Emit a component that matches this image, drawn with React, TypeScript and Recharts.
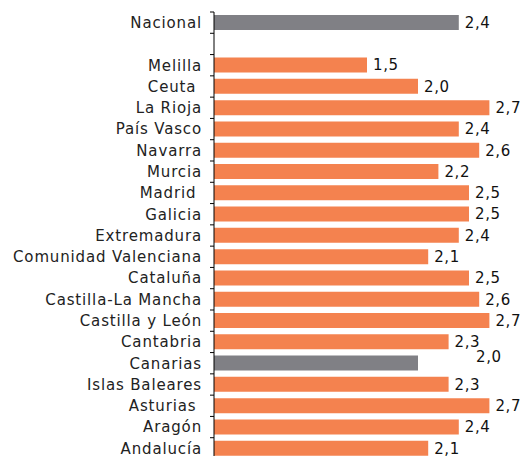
import React from 'react';
import { BarChart, Bar, XAxis, YAxis, Cell, LabelList } from 'recharts';

const categories = [
    'Nacional', '', 'Melilla', 'Ceuta\u00A0', 'La Rioja', 'País Vasco', 'Navarra', 'Murcia',
    'Madrid\u00A0', 'Galicia', 'Extremadura', 'Comunidad Valenciana', 'Cataluña',
    'Castilla-La Mancha', 'Castilla y León', 'Cantabria', 'Canarias', 'Islas Baleares',
    'Asturias\u00A0', 'Aragón', 'Andalucía',
];
const values = [
    2.4, null, 1.5, 2.0, 2.7, 2.4, 2.6, 2.2, 2.5, 2.5, 2.4, 2.1, 2.5, 2.6, 2.7, 2.3, 2.0, 2.3, 2.7, 2.4, 2.1,
];
const grayRows = ['Nacional', 'Canarias'];

const WIDTH = 521;
const HEIGHT = 459;
const MARGIN = { top: 12, right: 1, left: 0, bottom: 0 };
const BAND = (HEIGHT - MARGIN.top - MARGIN.bottom) / categories.length;
const FONT = '"DejaVu Sans", Verdana, sans-serif';

const ORANGE = '#F4824F';
const GRAY = '#808085';

const data = categories.map((name, i) => ({ name, value: values[i] }));

const fmt = (v: number) => v.toFixed(1).replace('.', ',');

const AxisTick = (props: any) => {
    const { x, y, payload } = props;
    const axisX = x + 12;
    return (
        <g>
            <text x={x} y={y} dy="0.36em" textAnchor="end" fontFamily={FONT} fontSize={15}
                letterSpacing={0.85} fill="#222">
                {payload.value}
            </text>
            <line x1={axisX - 4} x2={axisX} y1={y - BAND / 2} y2={y - BAND / 2} stroke="#000" />
        </g>
    );
};

// content gets the row name, the value is looked up from the arrays
const ValueLabel = (props: any) => {
    const { x, y, width, height, value: name } = props;
    const v = values[categories.indexOf(name)];
    if (v == null) return null;
    // the Canarias label sits off its bar in the original
    const odd = name === 'Canarias';
    return (
        <text x={x + width + (odd ? 58 : 6)} y={y + height / 2 + (odd ? -6 : 0)} dy="0.36em"
            fontFamily={FONT} fontSize={15} letterSpacing={0.6} fill="#111">
            {fmt(v)}
        </text>
    );
};

export default function App() {
    return (
        <div style={{ position: 'absolute', left: 0, top: 0, width: WIDTH, height: 456, overflow: 'hidden', background: '#fff' }}>
            <BarChart width={WIDTH} height={HEIGHT} data={data} layout="vertical" margin={MARGIN}>
                <XAxis type="number" domain={[0, 3]} hide />
                <YAxis type="category" dataKey="name" width={214} tickLine={false} tickSize={0}
                    tickMargin={12} axisLine={{ stroke: '#000' }} tick={<AxisTick />} interval={0} />
                <Bar dataKey="value" barSize={15} isAnimationActive={false}>
                    {data.map((d, i) => (
                        <Cell key={`cell-${i}`} fill={grayRows.includes(d.name) ? GRAY : ORANGE} />
                    ))}
                    <LabelList dataKey="name" content={<ValueLabel />} />
                </Bar>
            </BarChart>
        </div>
    );
}
